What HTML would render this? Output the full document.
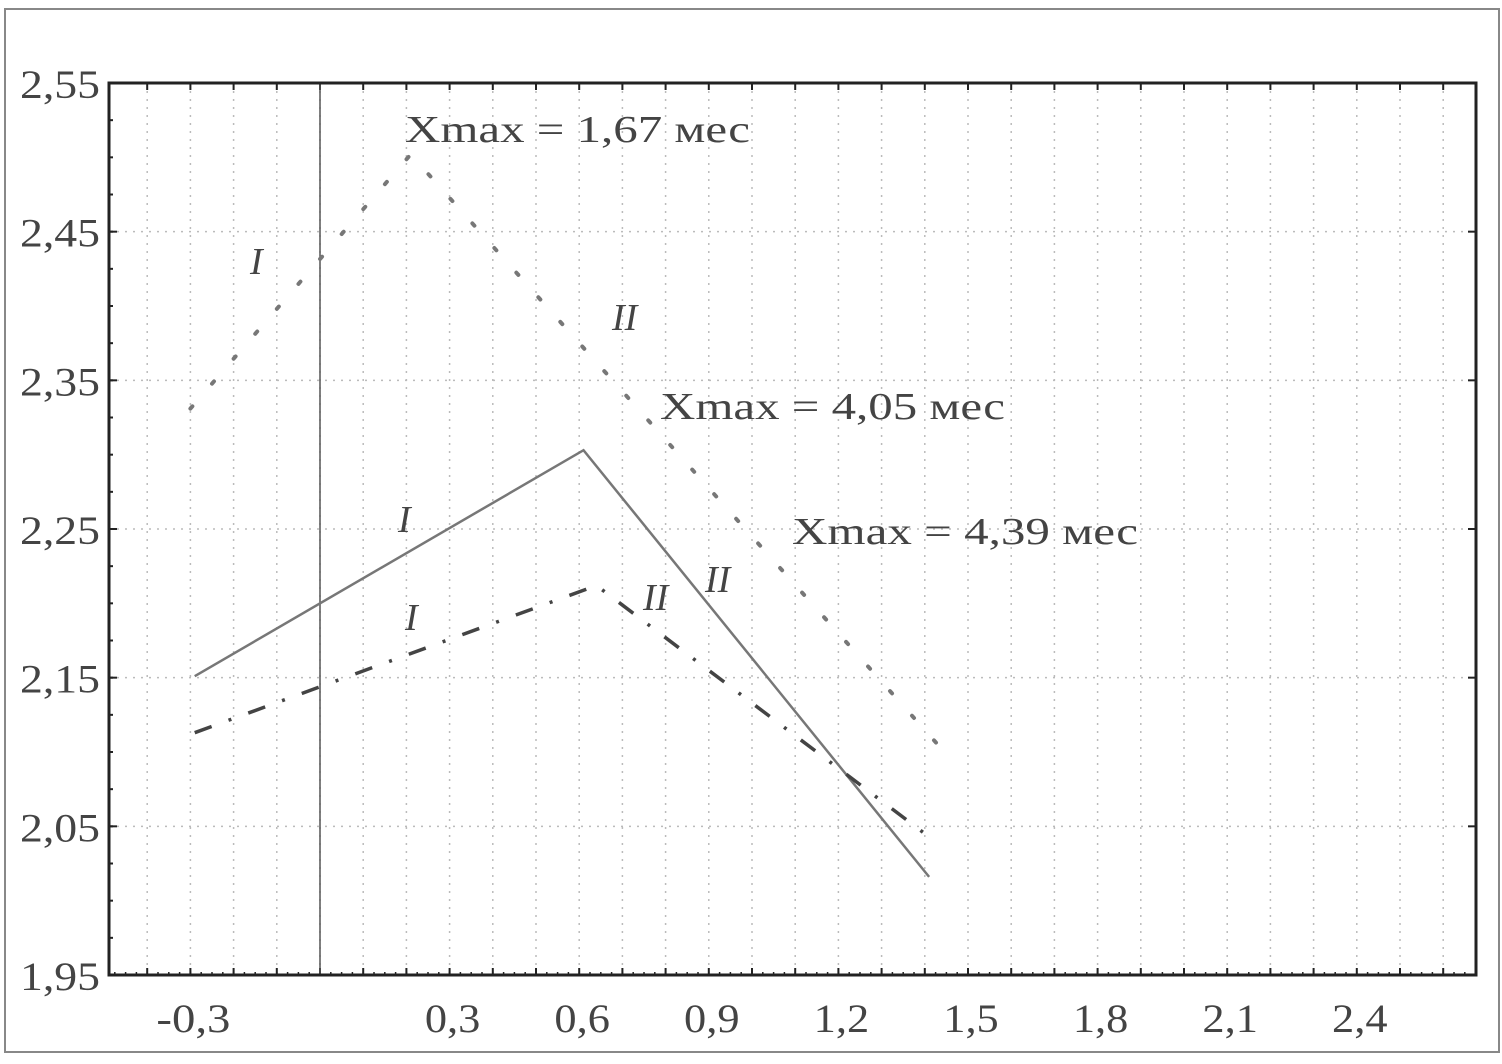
<!DOCTYPE html>
<html><head><meta charset="utf-8"><style>
body{margin:0;background:#fff;}
svg{display:block;}
text{font-family:"Liberation Serif",serif;fill:#444;}
</style></head><body>
<svg id="chart" width="1502" height="1064" viewBox="0 0 1502 1064">
<rect x="5" y="9" width="1494" height="1043" fill="none" stroke="#888" stroke-width="2"/>
<g id="grid"></g>
<g id="series"></g>
<g id="labels"></g>
<rect x="109" y="83" width="1367" height="892" fill="none" stroke="#222" stroke-width="3"/>
</svg>
<script>
const xTicks = [-0.3, 0.3, 0.6, 0.9, 1.2, 1.5, 1.8, 2.1, 2.4];
const xTickLabels = ["-0,3", "0,3", "0,6", "0,9", "1,2", "1,5", "1,8", "2,1", "2,4"];
const yTicks = [1.95, 2.05, 2.15, 2.25, 2.35, 2.45, 2.55];
const yTickLabels = ["1,95", "2,05", "2,15", "2,25", "2,35", "2,45", "2,55"];
const dottedX = [-0.3, 0.21, 1.47];
const dottedY = [2.331, 2.502, 2.092];
const solidX = [-0.29, 0.61, 1.41];
const solidY = [2.151, 2.303, 2.016];
const dashDotX = [-0.29, 0.64, 1.405];
const dashDotY = [2.113, 2.212, 2.044];

const NS = "http://www.w3.org/2000/svg";
const L = 109, R = 1476, T = 83, B = 975;
function sx(v){ return 320 + v * 432; }
function sy(v){ return T + (2.55 - v) / 0.6 * (B - T); }
function mk(tag, attrs, parent){
  const e = document.createElementNS(NS, tag);
  for (const k in attrs) e.setAttribute(k, attrs[k]);
  parent.appendChild(e); return e;
}
const grid = document.getElementById('grid');
const series = document.getElementById('series');
const labels = document.getElementById('labels');

for (let i = -4; i <= 26; i++) {
  const x = sx(i / 10);
  if (x <= L || x >= R) continue;
  const g = mk('line', {x1:x, x2:x, y1:T, y2:B, stroke:'#bbb', 'stroke-width':1.5, 'stroke-dasharray':'2 6'}, grid);
  
  
  const t = mk('line', {x1:x, x2:x, y1:B, y2:B-7, stroke:'#222', 'stroke-width':2}, grid);
  
  
  const t2 = mk('line', {x1:x, x2:x, y1:T, y2:T+7, stroke:'#222', 'stroke-width':2}, grid);
  
  
}
yTicks.forEach((v, i) => {
  const y = sy(v);
  if (y > T + 2 && y < B - 2) {
    const g = mk('line', {x1:L, x2:R, y1:y, y2:y, stroke:'#bbb', 'stroke-width':1.5, 'stroke-dasharray':'2 6'}, grid);
    
    
  }
  const t = mk('line', {x1:L, x2:L+8, y1:y, y2:y, stroke:'#222', 'stroke-width':2}, grid);
  
  
  const t2 = mk('line', {x1:R, x2:R-8, y1:y, y2:y, stroke:'#222', 'stroke-width':2}, grid);
  
  
  const lb = mk('text', {x:20, y:y+15, 'font-size':40, textLength:80, lengthAdjust:'spacingAndGlyphs'}, labels);
  lb.textContent = yTickLabels[i];
  
  
});
for (let v = 1.975; v < 2.55; v += 0.025) {
  const y = sy(v);
  const m = mk('line', {x1:L, x2:L+4, y1:y, y2:y, stroke:'#222', 'stroke-width':2}, grid);
  
  
}
for (let i = -19; i <= 106; i++) {
  const x = sx(i * 0.025);
  if (x <= L || x >= R) continue;
  const m = mk('line', {x1:x, x2:x, y1:B, y2:B-3, stroke:'#222', 'stroke-width':1.5}, grid);
  
  
}
xTicks.forEach((v, i) => {
  const w = xTickLabels[i].length * 18.5;
  const lb = mk('text', {x:sx(v) - w/2 + 3, y:1032, 'font-size':40, textLength:w, lengthAdjust:'spacingAndGlyphs'}, labels);
  lb.textContent = xTickLabels[i];
  
  
});
const z = mk('line', {x1:sx(0), x2:sx(0), y1:T, y2:B, stroke:'#555', 'stroke-width':1.5}, series);



function poly(xs, ys, attrs, name){
  const pts = xs.map((x, i) => sx(x) + ',' + sy(ys[i])).join(' ');
  const p = mk('polyline', Object.assign({points:pts, fill:'none'}, attrs), series);
  
  
}
poly(dottedX, dottedY, {stroke:'#777', 'stroke-width':4, 'stroke-dasharray':'3 30', 'stroke-linecap':'round'}, 'dotted-series');
poly(solidX, solidY, {stroke:'#777', 'stroke-width':2.5}, 'solid-series');
poly(dashDotX, dashDotY, {stroke:'#444', 'stroke-width':3.5, 'stroke-dasharray':'18 18 3 18'}, 'dash-dot-series');

const ann = [
  ['Xmax = 1,67 мес', 405, 142, 'normal', 'annotation-xmax-1', 345],
  ['Xmax = 4,05 мес', 660, 419, 'normal', 'annotation-xmax-2', 345],
  ['Xmax = 4,39 мес', 792, 544, 'normal', 'annotation-xmax-3', 346],
  ['I', 250, 274, 'italic', 'label-dotted-I', 0],
  ['II', 612, 330, 'italic', 'label-dotted-II', 0],
  ['I', 398, 532, 'italic', 'label-solid-I', 0],
  ['II', 705, 592, 'italic', 'label-solid-II', 0],
  ['I', 405, 630, 'italic', 'label-dashdot-I', 0],
  ['II', 643, 610, 'italic', 'label-dashdot-II', 0]
];
ann.forEach(a => {
  const attrs = {x:a[1], y:a[2], 'font-size':38, 'font-style':a[3]};
  if (a[5]) { attrs.textLength = a[5]; attrs.lengthAdjust = 'spacingAndGlyphs'; }
  const t = mk('text', attrs, labels);
  t.textContent = a[0];
  
  
});
</script>
</body></html>
